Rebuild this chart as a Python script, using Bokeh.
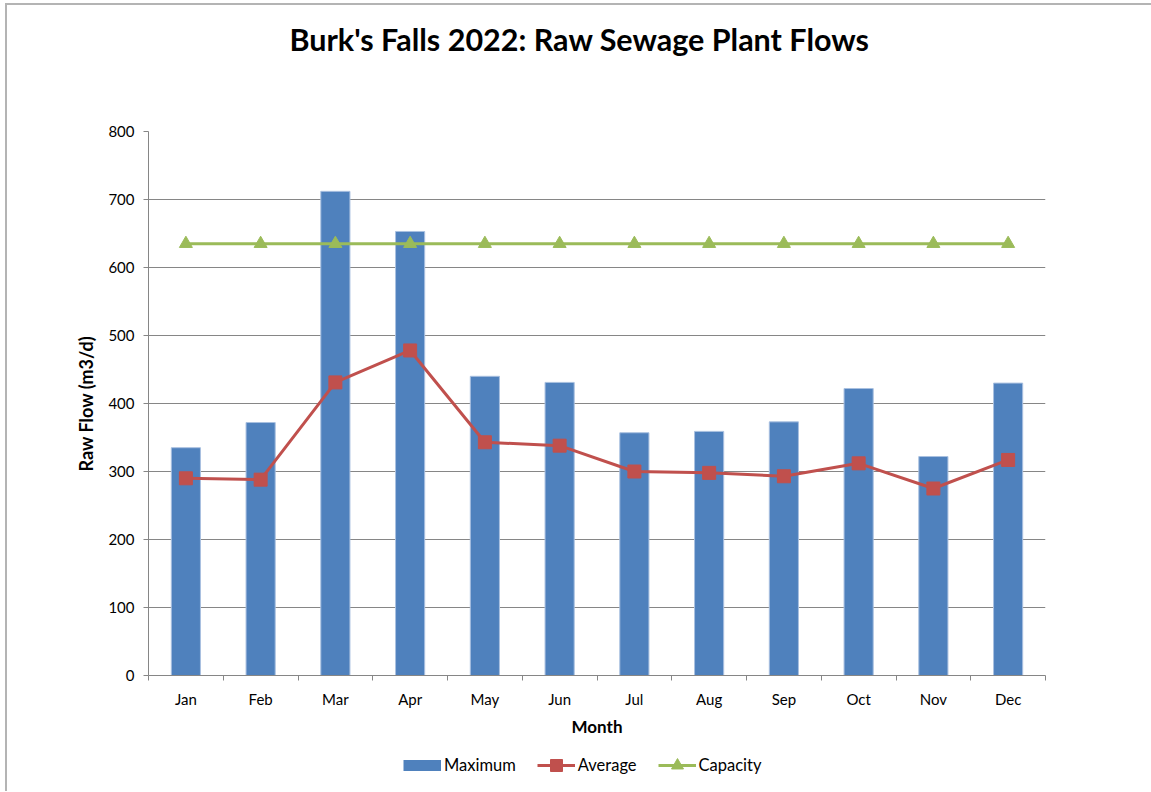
from bokeh.plotting import figure
from bokeh.layouts import column
from bokeh.models import (Range1d, FixedTicker, Legend, LegendItem, ColumnDataSource,
                          Label)
from bokeh.embed import file_html
from bokeh.resources import INLINE

title_text = "Burk's Falls 2022: Raw Sewage Plant Flows"
months = ["Jan", "Feb", "Mar", "Apr", "May", "Jun", "Jul", "Aug", "Sep", "Oct", "Nov", "Dec"]
maximum = [335, 372, 712, 653, 440, 431, 357, 359, 373, 422, 322, 430]
average = [290, 288, 431, 478, 343, 338, 300, 298, 293, 312, 275, 317]
capacity = [635, 635, 635, 635, 635, 635, 635, 635, 635, 635, 635, 635]
y_ticks = [0, 100, 200, 300, 400, 500, 600, 700, 800]

BLUE = "#4F81BD"
RED = "#C0504D"
GREEN = "#9BBB59"
GRID = "#868686"
FONT = "Lato"

xpos = [i + 0.5 for i in range(len(months))]
src = ColumnDataSource(dict(x=xpos, month=months, maximum=maximum,
                            average=average, capacity=capacity))

# ---- header with the chart title
hd = figure(width=1144, height=90, output_backend="svg", toolbar_location=None,
            min_border=0, x_axis_type=None, y_axis_type=None,
            x_range=Range1d(0, 1), y_range=Range1d(0, 1))
hd.outline_line_color = None
hd.grid.visible = False
hd.add_layout(Label(x=431, y=57, x_units="screen", y_units="screen", text=title_text,
                    text_align="center", text_baseline="middle", text_font=FONT,
                    text_font_size="30.5px", text_font_style="bold",
                    text_color="black"))

# ---- main chart
p = figure(width=1144, height=650, x_range=Range1d(0, len(months)),
           y_range=Range1d(0, 800), output_backend="svg", toolbar_location=None,
           min_border_left=141, min_border_right=106, min_border_top=36,
           min_border_bottom=70)
p.outline_line_color = None
p.border_fill_color = "white"
p.title.visible = False

p.vbar(x="x", top="maximum", width=0.39, source=src, fill_color=BLUE,
       line_color="#a9c0e0", line_width=1)
p.line(x="x", y="average", source=src, line_color=RED, line_width=3)
p.scatter(x="x", y="average", source=src, marker="square", size=13,
          fill_color=RED, line_color=RED)
p.line(x="x", y="capacity", source=src, line_color=GREEN, line_width=3)
p.scatter(x="x", y="capacity", source=src, marker="triangle", size=13,
          fill_color=GREEN, line_color=GREEN)

p.xgrid.visible = False
p.ygrid.grid_line_color = GRID
p.ygrid.grid_line_width = 1
p.yaxis.ticker = FixedTicker(ticks=y_ticks)
p.yaxis.axis_line_color = GRID
p.yaxis.major_tick_line_color = GRID
p.yaxis.major_tick_out = 5
p.yaxis.major_tick_in = 0
p.yaxis.minor_tick_line_color = None
p.yaxis.major_label_text_font = FONT
p.yaxis.major_label_text_font_size = "15px"
p.yaxis.major_label_text_color = "black"
p.yaxis.major_label_standoff = 9
p.yaxis.axis_label = "Raw Flow (m3/d)"
p.yaxis.axis_label_text_font = FONT
p.yaxis.axis_label_text_font_size = "18px"
p.yaxis.axis_label_text_font_style = "bold"
p.yaxis.axis_label_text_color = "black"
p.yaxis.axis_label_standoff = 8

p.xaxis.ticker = FixedTicker(ticks=xpos, minor_ticks=list(range(len(months) + 1)))
p.xaxis.major_label_overrides = {xv: m for xv, m in zip(xpos, months)}
p.xaxis.axis_line_color = GRID
p.xaxis.major_tick_line_color = None
p.xaxis.minor_tick_line_color = GRID
p.xaxis.minor_tick_out = 5
p.xaxis.minor_tick_in = 0
p.xaxis.major_label_text_font = FONT
p.xaxis.major_label_text_font_size = "15px"
p.xaxis.major_label_text_color = "black"
p.xaxis.major_label_standoff = 8
p.xaxis.axis_label = "Month"
p.xaxis.axis_label_text_font = FONT
p.xaxis.axis_label_text_font_size = "17px"
p.xaxis.axis_label_text_font_style = "bold"
p.xaxis.axis_label_text_color = "black"
p.xaxis.axis_label_standoff = 5

# ---- legend strip below the chart (invisible proxies of the same series)
lg = figure(width=1144, height=46, output_backend="svg", toolbar_location=None,
            min_border=0, x_axis_type=None, y_axis_type=None)
lg.outline_line_color = None
lg.grid.visible = False
lg_max = lg.line(x="x", y="maximum", source=src, line_color=BLUE, line_width=11,
                 visible=False)
lg_avg_l = lg.line(x="x", y="average", source=src, line_color=RED, line_width=3,
                   visible=False)
lg_avg_m = lg.scatter(x="x", y="average", source=src, marker="square",
                      fill_color=RED, line_color=RED, visible=False)
lg_cap_l = lg.line(x="x", y="capacity", source=src, line_color=GREEN, line_width=3,
                   visible=False)
lg_cap_m = lg.scatter(x="x", y="capacity", source=src, marker="triangle",
                      fill_color=GREEN, line_color=GREEN, visible=False)
legend = Legend(items=[LegendItem(label="Maximum", renderers=[lg_max]),
                       LegendItem(label="Average", renderers=[lg_avg_l, lg_avg_m]),
                       LegendItem(label="Capacity", renderers=[lg_cap_l, lg_cap_m])],
                orientation="horizontal", location=(255, 11),
                glyph_width=38, glyph_height=30, label_standoff=3, spacing=21,
                padding=0, margin=0, border_line_color=None,
                background_fill_alpha=0, inactive_fill_alpha=0,
                label_text_font=FONT, label_text_font_size="16.5px",
                label_text_color="black")
lg.add_layout(legend)

layout = column(hd, p, lg, spacing=0,
                styles={"border-top": "2px solid #b4b4b4",
                        "border-left": "2px solid #b4b4b4",
                        "margin-left": "5px", "margin-top": "3px"})

open("out.html", "w").write(file_html(layout, INLINE))
